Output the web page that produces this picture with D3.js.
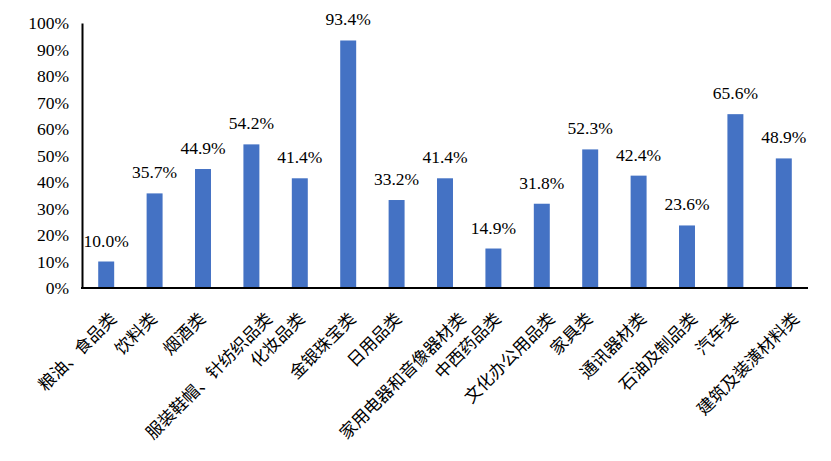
<!DOCTYPE html>
<html><head><meta charset="utf-8">
<script src="https://cdn.jsdelivr.net/npm/d3@7"></script>
<style>body{margin:0;background:#fff}
.serif{font-family:"Liberation Serif","Times New Roman",Times,serif !important;}
.cjk{font-family:"Noto Sans CJK SC","Noto Sans CJK JP",sans-serif;}
</style>
</head><body>
<svg id="c" width="831" height="461"></svg>
<script>
const categories = ["粮油、食品类","饮料类","烟酒类","服装鞋帽、针纺织品类","化妆品类","金银珠宝类","日用品类","家用电器和音像器材类","中西药品类","文化办公用品类","家具类","通讯器材类","石油及制品类","汽车类","建筑及装潢材料类"];
const values = [10.0,35.7,44.9,54.2,41.4,93.4,33.2,41.4,14.9,31.8,52.3,42.4,23.6,65.6,48.9];
const yTicks = [0,10,20,30,40,50,60,70,80,90,100];

(function(){
const svg = d3.select("#c");
const mLeft = 82, mRight = 808, mTop = 23, mBottom = 288;
const x = d3.scaleBand().domain(categories).range([mLeft, mRight]).paddingInner(0.67).paddingOuter(0.335);
const y = d3.scaleLinear().domain([0,100]).range([mBottom, mTop]);

svg.append("g").selectAll("rect").data(values).join("rect")
  .attr("x",(d,i)=>x(categories[i])).attr("width",x.bandwidth())
  .attr("y",d=>y(d)).attr("height",d=>mBottom-y(d)).attr("fill","#4472C4");

const yAxis = svg.append("g").attr("transform",`translate(${mLeft},0)`)
  .call(d3.axisLeft(y).tickValues(yTicks).tickFormat(d=>d+"%").tickSize(0).tickPadding(13));
yAxis.select(".domain").attr("stroke","#000").attr("stroke-width",2);
yAxis.selectAll("text").attr("class","serif").style("font-size","17.5px").attr("fill","#000");

const xAxis = svg.append("g").attr("transform",`translate(0,${mBottom})`)
  .call(d3.axisBottom(x).tickSize(0).tickFormat(""));
xAxis.select(".domain").attr("stroke","#000").attr("stroke-width",2).attr("d",`M${mLeft-1},0H${mRight}`);

const labels = svg.append("g").selectAll("text").data(categories).join("text")
  .attr("class","cjk").style("font-size","17px")
  .attr("text-anchor","end").attr("fill","#000")
  .text(d=>d);
labels.attr("transform",function(d){
  const L = this.getComputedTextLength();
  const off = 0.155*L - 4.5;
  return `translate(${x(d)+x.bandwidth()/2+off},${mBottom+32}) rotate(-45)`;
});

svg.append("g").selectAll("text").data(values).join("text")
  .attr("x",(d,i)=>x(categories[i])+x.bandwidth()/2).attr("y",d=>y(d)-15)
  .attr("text-anchor","middle").attr("class","serif").style("font-size","17.5px").attr("fill","#000")
  .text(d=>d.toFixed(1)+"%");
})();
</script>
</body></html>
